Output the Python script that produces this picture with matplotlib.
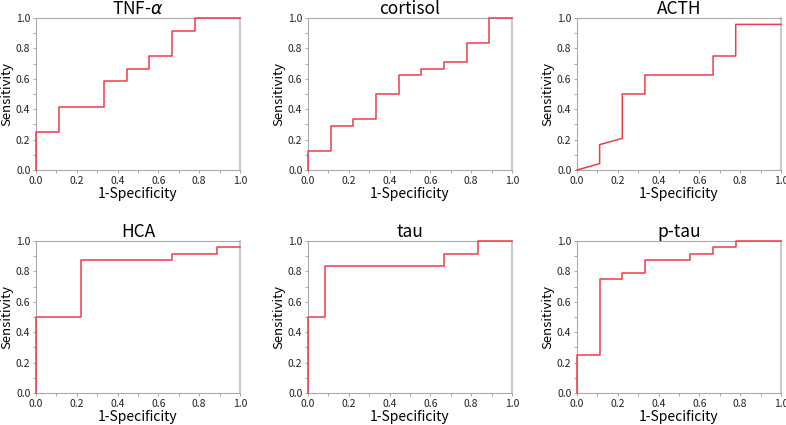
import numpy as np
import matplotlib.pyplot as plt

plt.rcParams['font.family'] = ['Noto Sans CJK JP', 'DejaVu Sans']

titles = ['TNF-$\\alpha$', 'cortisol', 'ACTH', 'HCA', 'tau', 'p-tau']

# ROC curve points (1-specificity, sensitivity)
tnf_x = [0, 0, 0.111, 0.111, 0.333, 0.333, 0.444, 0.444, 0.556, 0.556, 0.667, 0.667, 0.778, 0.778, 1.0]
tnf_y = [0, 0.25, 0.25, 0.417, 0.417, 0.583, 0.583, 0.667, 0.667, 0.75, 0.75, 0.917, 0.917, 1.0, 1.0]

cort_x = [0, 0, 0.111, 0.111, 0.222, 0.222, 0.333, 0.333, 0.444, 0.444, 0.556, 0.556, 0.667, 0.667,
          0.778, 0.778, 0.889, 0.889, 1.0]
cort_y = [0, 0.125, 0.125, 0.29, 0.29, 0.333, 0.333, 0.5, 0.5, 0.625, 0.625, 0.667, 0.667, 0.708,
          0.708, 0.833, 0.833, 1.0, 1.0]

acth_x = [0, 0.111, 0.111, 0.222, 0.222, 0.333, 0.333, 0.667, 0.667, 0.778, 0.778, 1.0]
acth_y = [0, 0.042, 0.167, 0.208, 0.5, 0.5, 0.625, 0.625, 0.75, 0.75, 0.958, 0.958]

hca_x = [0, 0, 0.222, 0.222, 0.667, 0.667, 0.889, 0.889, 1.0]
hca_y = [0, 0.5, 0.5, 0.875, 0.875, 0.917, 0.917, 0.958, 0.958]

tau_x = [0, 0, 0.083, 0.083, 0.667, 0.667, 0.833, 0.833, 1.0]
tau_y = [0, 0.5, 0.5, 0.833, 0.833, 0.917, 0.917, 1.0, 1.0]

ptau_x = [0, 0, 0.111, 0.111, 0.222, 0.222, 0.333, 0.333, 0.556, 0.556, 0.667, 0.667, 0.778, 0.778, 1.0]
ptau_y = [0, 0.25, 0.25, 0.75, 0.75, 0.792, 0.792, 0.875, 0.875, 0.917, 0.917, 0.958, 0.958, 1.0, 1.0]

xs = [tnf_x, cort_x, acth_x, hca_x, tau_x, ptau_x]
ys = [tnf_y, cort_y, acth_y, hca_y, tau_y, ptau_y]

ticks = [0.0, 0.2, 0.4, 0.6, 0.8, 1.0]
ticklabels = ['0.0', '0.2', '0.4', '0.6', '0.8', '1.0']

fig = plt.figure(figsize=(7.86, 4.25), dpi=100)

lefts = [36, 308, 577]
tops = [18, 241]
w = 204
h = 152

for i in range(6):
    r = i // 3
    c = i % 3
    ax = fig.add_axes([lefts[c] / 786, (425 - tops[r] - h) / 425, w / 786, h / 425])
    ax.plot(xs[i], ys[i], color='#f03c46', lw=1.1, clip_on=False, zorder=3)
    ax.set_xlim(0, 1)
    ax.set_ylim(0, 1)
    ax.set_xticks(ticks)
    ax.set_xticklabels(ticklabels)
    ax.set_yticks(ticks)
    ax.set_yticklabels(ticklabels)
    ax.set_xticks(np.arange(0.1, 1.0, 0.2), minor=True)
    ax.set_yticks(np.arange(0.1, 1.0, 0.2), minor=True)
    ax.tick_params(which='both', direction='out', length=2.5, width=0.6, color='#999999',
                   labelsize=7.5, pad=1.5, labelcolor='#222222')
    for s in ['left', 'bottom', 'top']:
        ax.spines[s].set_color('#aaaaaa')
        ax.spines[s].set_linewidth(0.8)
    ax.spines['right'].set_color('#cccccc')
    ax.spines['right'].set_linewidth(1.6)
    ax.set_title(titles[i], fontsize=12.5, pad=2)
    ax.set_xlabel('1-Specificity', fontsize=10, labelpad=1)
    ax.set_ylabel('Sensitivity', fontsize=9.5, labelpad=2)

fig.savefig('out.png', dpi=100)
